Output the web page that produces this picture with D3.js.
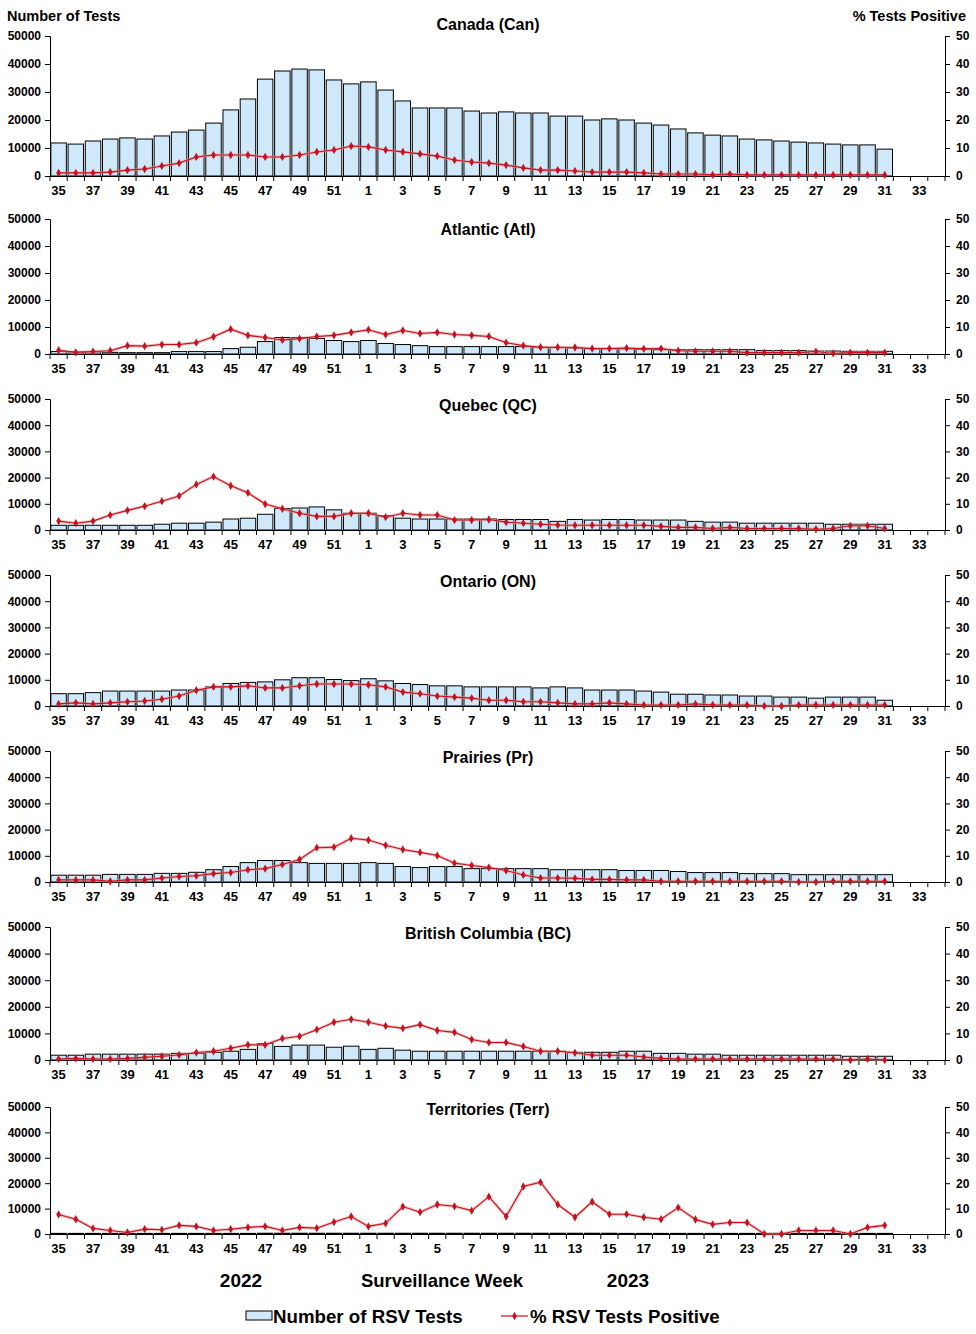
<!DOCTYPE html>
<html>
<head>
<meta charset="utf-8">
<script src="https://cdn.jsdelivr.net/npm/d3@7"></script>
<style>
  body { margin: 0; background: #fff; }
  svg { display: block; font-family: "Liberation Sans", Arial, sans-serif; }
  .axis text { font-weight: bold; fill: #000; }
  .axis path, .axis line { stroke: #000; }
</style>
</head>
<body>
<svg id="chart"></svg>
<script>
// surveillance weeks, 2022 wk 35 to 2023 wk 34
const weeks = [35, 36, 37, 38, 39, 40, 41, 42, 43, 44, 45, 46, 47, 48, 49, 50, 51, 52,
  1, 2, 3, 4, 5, 6, 7, 8, 9, 10, 11, 12, 13, 14, 15, 16, 17, 18, 19, 20, 21, 22, 23, 24, 25, 26,
  27, 28, 29, 30, 31, 32, 33, 34];

const regionNames = ["Canada (Can)", "Atlantic (Atl)", "Quebec (QC)", "Ontario (ON)",
  "Prairies (Pr)", "British Columbia (BC)", "Territories (Terr)"];

// number of tests, weeks 35..31
const canTests = [11800, 11400, 12500, 13200, 13600, 13200, 14300, 15700, 16400, 18900, 23600, 27500, 34600, 37500, 38200, 37900, 34300, 32900,
  33600, 30700, 26800, 24300, 24300, 24300, 23200, 22500, 22900, 22500, 22500, 21400, 21400, 20000, 20400, 20000, 18900, 18200, 16800, 15400,
  14600, 14300, 13200, 12900, 12500, 12100, 11800, 11400, 11100, 11100, 9600];
const atlTests = [900, 750, 750, 600, 500, 500, 500, 900, 900, 900, 2000, 2500, 4600, 6100, 6100, 5800, 5000, 4600,
  5000, 3900, 3500, 3100, 2750, 2750, 2750, 2750, 2750, 2750, 2500, 2400, 2250, 2000, 2000, 1900, 1750, 1600, 1600, 1600,
  1600, 1600, 1600, 1250, 1250, 1250, 1100, 1100, 1000, 1000, 1000];
const qcTests = [1800, 1800, 1800, 1800, 1800, 1800, 2200, 2600, 2600, 3000, 4200, 4500, 6000, 8200, 8400, 8800, 7700, 6400,
  6400, 5500, 4500, 4200, 4200, 4200, 4200, 4200, 4000, 4000, 4000, 3300, 4000, 3800, 4000, 4000, 3800, 3800, 3800, 3300,
  3000, 3000, 2600, 2600, 2600, 2600, 2600, 2200, 2200, 2200, 2200];
const onTests = [4700, 4700, 5100, 5700, 5700, 5700, 5700, 6100, 6100, 7300, 8600, 9000, 9200, 10000, 10800, 10800, 10100, 9700,
  10400, 9600, 8600, 8200, 7700, 7700, 7300, 7300, 7300, 7300, 6900, 7300, 6900, 6100, 6100, 6100, 5700, 5300, 4500, 4500,
  4200, 4200, 3800, 3800, 3400, 3400, 3000, 3400, 3400, 3400, 2200];
const prTests = [2600, 2600, 2600, 2900, 2900, 2900, 3300, 3300, 3700, 4700, 5900, 7400, 8200, 8200, 7400, 7100, 7100, 7100,
  7400, 7100, 5900, 5500, 5900, 5900, 5100, 5100, 5100, 5100, 5100, 4700, 4700, 4700, 4700, 4400, 4400, 4400, 4000, 3600,
  3600, 3600, 3200, 3200, 3200, 2800, 2800, 2800, 2800, 2800, 2800];
const bcTests = [1800, 1800, 2200, 2200, 2200, 2200, 2200, 2500, 2500, 2900, 3300, 4000, 6200, 5100, 5600, 5600, 4800, 5200,
  4000, 4400, 3700, 3300, 3300, 3300, 3300, 3300, 3300, 3300, 3300, 3300, 2900, 2900, 2900, 3300, 3300, 2500, 2500, 2200,
  2200, 1800, 1800, 1800, 1800, 1800, 1800, 1800, 1400, 1400, 1400];
const terrTests = [250, 250, 250, 250, 250, 250, 250, 250, 250, 250, 250, 250, 300, 300, 300, 300, 300, 300,
  300, 300, 300, 300, 300, 300, 300, 300, 300, 300, 300, 300, 300, 300, 300, 250, 250, 250, 250, 250,
  250, 250, 250, 250, 250, 250, 250, 250, 250, 250, 250];

// % tests positive, weeks 35..31
const canPct = [1.1, 1.1, 1.1, 1.4, 2.1, 2.5, 3.6, 4.6, 6.8, 7.5, 7.5, 7.5, 6.8, 6.8, 7.5, 8.6, 9.3, 10.7,
  10.4, 9.3, 8.6, 7.9, 7.1, 5.7, 5.0, 4.6, 3.9, 2.9, 2.1, 2.1, 1.8, 1.4, 1.4, 1.4, 1.1, 0.7, 0.7, 0.7,
  0.4, 0.7, 0.4, 0.4, 0.4, 0.4, 0.4, 0.4, 0.4, 0.4, 0.4];
const atlPct = [1.4, 0.6, 0.9, 1.2, 3.1, 2.9, 3.5, 3.5, 4.2, 6.4, 9.2, 6.9, 6.1, 5.2, 5.7, 6.5, 6.9, 8.0,
  9.0, 7.2, 8.7, 7.6, 8.0, 7.2, 6.9, 6.5, 4.2, 3.1, 2.5, 2.5, 2.4, 2.0, 2.0, 2.2, 1.9, 2.0, 1.2, 1.0,
  1.0, 1.0, 0.5, 0.5, 0.5, 0.5, 0.9, 0.2, 0.5, 0.5, 0.5];
const qcPct = [3.4, 2.6, 3.4, 5.7, 7.5, 9.1, 11.0, 13.0, 17.4, 20.4, 16.9, 14.2, 9.9, 8.1, 6.4, 5.2, 5.2, 6.4,
  6.4, 4.9, 6.4, 5.7, 5.7, 3.8, 3.8, 4.0, 3.0, 2.6, 2.2, 1.9, 1.8, 1.8, 1.8, 1.8, 1.8, 1.4, 1.0, 1.0,
  0.6, 1.0, 0.6, 0.6, 0.6, 0.6, 0.3, 0.6, 1.6, 1.6, 0.6];
const onPct = [0.8, 1.2, 0.8, 1.2, 1.6, 1.9, 2.6, 3.8, 6.0, 7.3, 7.3, 7.7, 6.9, 6.9, 7.7, 8.4, 8.4, 8.4,
  8.1, 7.3, 5.3, 4.7, 3.8, 3.4, 3.0, 2.2, 2.2, 1.6, 1.6, 1.2, 0.8, 0.8, 1.2, 0.8, 0.4, 0.4, 0.4, 0.8,
  0.4, 0.4, 0.4, 0.0, 0.0, 0.4, 0.4, 0.4, 0.4, 0.4, 0.4];
const prPct = [0.8, 0.8, 0.8, 0.3, 0.8, 0.8, 1.5, 2.1, 2.4, 3.2, 3.6, 4.7, 5.1, 6.7, 8.6, 13.1, 13.3, 16.7,
  16.0, 14.0, 12.4, 11.3, 10.1, 7.2, 6.3, 5.5, 4.4, 2.7, 1.5, 1.5, 1.4, 1.0, 1.0, 0.8, 0.8, 0.3, 0.3, 0.3,
  0.3, 0.3, 0.3, 0.3, 0.3, 0.0, 0.0, 0.3, 0.3, 0.3, 0.3];
const bcPct = [0.4, 0.6, 0.4, 0.4, 0.6, 1.0, 1.4, 1.9, 2.8, 3.3, 4.4, 5.7, 5.7, 8.1, 8.9, 11.4, 14.2, 15.3,
  14.2, 12.8, 11.9, 13.3, 11.1, 10.4, 7.7, 6.6, 6.6, 5.1, 3.3, 3.3, 2.7, 1.8, 1.8, 1.8, 1.1, 0.6, 0.4, 0.4,
  0.4, 0.4, 0.4, 0.4, 0.4, 0.4, 0.4, 0.4, 0.0, 0.4, 0.0];
const terrPct = [7.7, 5.8, 2.2, 1.4, 0.6, 1.9, 1.7, 3.4, 3.0, 1.4, 1.9, 2.6, 3.0, 1.4, 2.6, 2.3, 4.7, 6.9,
  3.0, 4.2, 10.8, 8.6, 11.6, 10.9, 9.2, 14.7, 6.9, 18.7, 20.4, 11.6, 6.6, 12.7, 7.8, 7.8, 6.6, 5.8, 10.4, 5.7,
  3.8, 4.5, 4.5, 0.0, 0.0, 1.4, 1.4, 1.4, 0.0, 2.6, 3.4];

const testsTicks = [0, 10000, 20000, 30000, 40000, 50000];
const pctTicks = [0, 10, 20, 30, 40, 50];

const testsSeries = [canTests, atlTests, qcTests, onTests, prTests, bcTests, terrTests];
const pctSeries = [canPct, atlPct, qcPct, onPct, prPct, bcPct, terrPct];

// panel layout (pixel rows of each panel)
const panelTop = [36, 219, 399, 575, 751, 927, 1107];
const panelBottom = [176, 354, 530, 706, 882, 1060, 1234];
const titleY = [30, 235, 411, 587, 763, 939, 1115];

const W = 976, H = 1334;
const left = 50, right = 945;
const barFill = "#cfe9fb";
const lineColor = "#c8101e";

const svg = d3.select("#chart").attr("width", W).attr("height", H);

// keys so the two years don't collide
const keys = weeks.map((w, i) => i);
const x = d3.scaleBand().domain(keys).range([left, right]).paddingInner(0.1).paddingOuter(0.05);

regionNames.forEach((name, p) => {
  const top = panelTop[p], bottom = panelBottom[p];
  const y = d3.scaleLinear().domain([0, 50000]).range([bottom, top]);
  const y2 = d3.scaleLinear().domain([0, 50]).range([bottom, top]);
  const g = svg.append("g");

  const tests = testsSeries[p];
  const pct = pctSeries[p];

  g.selectAll("rect.bar")
    .data(tests)
    .join("rect")
    .attr("class", "bar")
    .attr("x", (d, i) => x(i))
    .attr("width", x.bandwidth())
    .attr("y", (d) => y(d))
    .attr("height", (d) => bottom - y(d))
    .attr("fill", barFill)
    .attr("stroke", "#000")
    .attr("stroke-width", 1);

  // left axis
  g.append("g")
    .attr("class", "axis")
    .attr("transform", `translate(${left},0)`)
    .call(d3.axisLeft(y).tickValues(testsTicks).tickSize(5).tickPadding(4).tickFormat(d3.format("d")))
    .call((a) => a.selectAll("text").style("font-size", "12px"));

  // right axis
  g.append("g")
    .attr("class", "axis")
    .attr("transform", `translate(${right},0)`)
    .call(d3.axisRight(y2).tickValues(pctTicks).tickSize(5).tickPadding(6))
    .call((a) => a.selectAll("text").style("font-size", "12px"));

  // bottom axis: labels every second week, ticks at band edges
  const xa = g.append("g")
    .attr("class", "axis")
    .attr("transform", `translate(0,${bottom})`)
    .call(d3.axisBottom(x).tickSize(0).tickPadding(10).tickSizeOuter(0)
      .tickFormat((i) => (i % 2 === 0 ? weeks[i] : "")))
    .call((a) => a.selectAll("text").style("font-size", "13px"));
  xa.select(".domain").attr("d", `M${left},0.5H${right}`);
  const edges = keys.map((i) => x(i) - (x.step() - x.bandwidth()) / 2).concat([right]);
  xa.selectAll("line.edge")
    .data(edges)
    .join("line")
    .attr("class", "edge")
    .attr("x1", (d) => d).attr("x2", (d) => d)
    .attr("y1", 0).attr("y2", 5)
    .attr("stroke", "#000");

  // % positive line
  const line = d3.line().x((d, i) => x(i) + x.bandwidth() / 2).y((d) => y2(d));
  g.append("path")
    .datum(pct)
    .attr("d", line)
    .attr("fill", "none")
    .attr("stroke", "#e59a9a")
    .attr("stroke-width", 3)
    .attr("stroke-opacity", 0.6);
  g.append("path")
    .datum(pct)
    .attr("d", line)
    .attr("fill", "none")
    .attr("stroke", lineColor)
    .attr("stroke-width", 1.1);
  g.selectAll("path.pt")
    .data(pct)
    .join("path")
    .attr("class", "pt")
    .attr("transform", (d, i) => `translate(${x(i) + x.bandwidth() / 2},${y2(d)})`)
    .attr("d", d3.symbol(d3.symbolDiamond, 20))
    .attr("fill", lineColor);

  g.append("text")
    .attr("x", 488)
    .attr("y", titleY[p])
    .attr("text-anchor", "middle")
    .style("font-size", "16px")
    .style("font-weight", "bold")
    .text(name);
});

// axis titles
svg.append("text").attr("x", 7).attr("y", 21)
  .style("font-size", "14.5px").style("font-weight", "bold").text("Number of Tests");
svg.append("text").attr("x", 966).attr("y", 21).attr("text-anchor", "end")
  .style("font-size", "14.5px").style("font-weight", "bold").text("%  Tests Positive");

svg.append("text").attr("x", 241).attr("y", 1287).attr("text-anchor", "middle")
  .style("font-size", "19px").style("font-weight", "bold").text("2022");
svg.append("text").attr("x", 442).attr("y", 1287).attr("text-anchor", "middle")
  .style("font-size", "18.5px").style("font-weight", "bold").text("Surveillance Week");
svg.append("text").attr("x", 628).attr("y", 1287).attr("text-anchor", "middle")
  .style("font-size", "19px").style("font-weight", "bold").text("2023");

// legend
const lg = svg.append("g");
lg.append("rect").attr("x", 246).attr("y", 1311).attr("width", 26).attr("height", 9)
  .attr("fill", barFill).attr("stroke", "#000");
lg.append("text").attr("x", 273).attr("y", 1323)
  .style("font-size", "18.7px").style("font-weight", "bold").text("Number of RSV Tests");
lg.append("line").attr("x1", 501).attr("x2", 528).attr("y1", 1316).attr("y2", 1316)
  .attr("stroke", lineColor).attr("stroke-width", 1.2);
lg.append("path").attr("transform", "translate(514.5,1316)")
  .attr("d", d3.symbol(d3.symbolDiamond, 20)).attr("fill", lineColor);
lg.append("text").attr("x", 530).attr("y", 1323)
  .style("font-size", "18.7px").style("font-weight", "bold").text("% RSV Tests Positive");
</script>
</body>
</html>
